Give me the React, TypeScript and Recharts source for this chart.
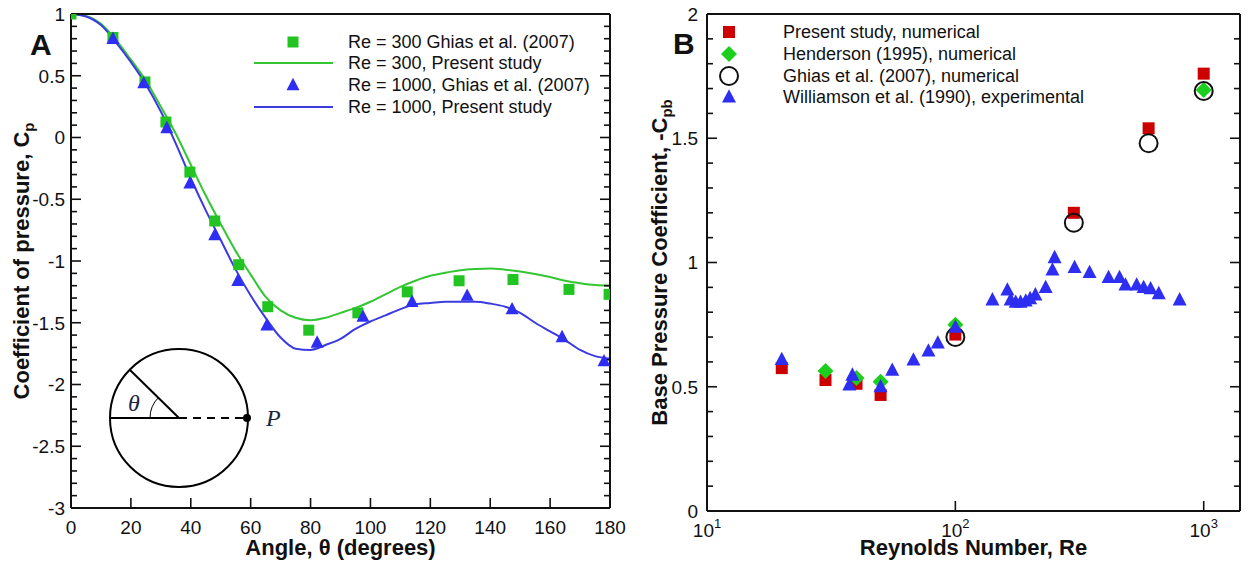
import React from "react";
import { ComposedChart, ScatterChart, Line, Scatter, XAxis, YAxis, Legend } from "recharts";

const FONT = "'Liberation Sans', Arial, Helvetica, sans-serif";
const SERIF = "'Liberation Serif', 'Times New Roman', serif";
const INK = "#111";

// ---------- panel A : Cp around the cylinder ----------
const angleMajor = [0, 20, 40, 60, 80, 100, 120, 140, 160, 180];
const cpMajor = [-3, -2.5, -2, -1.5, -1, -0.5, 0, 0.5, 1];

// Ghias et al. (2007), Re = 300 (squares)
const ghias300 = [
  { angle: 0, cp: 1.0 }, { angle: 14, cp: 0.81 }, { angle: 24.7, cp: 0.45 }, { angle: 31.7, cp: 0.125 },
  { angle: 39.7, cp: -0.28 }, { angle: 48, cp: -0.676 }, { angle: 56, cp: -1.03 }, { angle: 65.7, cp: -1.37 },
  { angle: 79.4, cp: -1.56 }, { angle: 95.8, cp: -1.42 }, { angle: 112.3, cp: -1.25 }, { angle: 129.6, cp: -1.16 },
  { angle: 147.6, cp: -1.15 }, { angle: 166.3, cp: -1.23 }, { angle: 179.7, cp: -1.27 },
];

// Ghias et al. (2007), Re = 1000 (triangles)
const ghias1000 = [
  { angle: 14, cp: 0.8 }, { angle: 24.3, cp: 0.44 }, { angle: 32, cp: 0.077 }, { angle: 39.7, cp: -0.37 },
  { angle: 48, cp: -0.79 }, { angle: 55.7, cp: -1.16 }, { angle: 65.4, cp: -1.52 }, { angle: 82.2, cp: -1.66 },
  { angle: 97.5, cp: -1.45 }, { angle: 113.9, cp: -1.33 }, { angle: 132.3, cp: -1.28 }, { angle: 147.3, cp: -1.39 },
  { angle: 164, cp: -1.615 }, { angle: 178, cp: -1.81 },
];

// present study, Re = 300
const present300 = [
  { angle: 0, cp: 1.0 }, { angle: 5, cp: 0.985 }, { angle: 10, cp: 0.92 }, { angle: 15, cp: 0.79 },
  { angle: 20, cp: 0.63 }, { angle: 25, cp: 0.46 }, { angle: 30, cp: 0.25 }, { angle: 35, cp: 0.03 },
  { angle: 40, cp: -0.22 }, { angle: 45, cp: -0.47 }, { angle: 50, cp: -0.7 }, { angle: 55, cp: -0.92 },
  { angle: 60, cp: -1.11 }, { angle: 65, cp: -1.29 }, { angle: 70, cp: -1.4 }, { angle: 75, cp: -1.46 },
  { angle: 80, cp: -1.48 }, { angle: 85, cp: -1.46 }, { angle: 90, cp: -1.42 }, { angle: 95, cp: -1.38 },
  { angle: 100, cp: -1.33 }, { angle: 105, cp: -1.27 }, { angle: 110, cp: -1.21 }, { angle: 115, cp: -1.16 },
  { angle: 120, cp: -1.12 }, { angle: 125, cp: -1.095 }, { angle: 130, cp: -1.075 }, { angle: 135, cp: -1.065 },
  { angle: 140, cp: -1.06 }, { angle: 145, cp: -1.07 }, { angle: 150, cp: -1.085 }, { angle: 155, cp: -1.105 },
  { angle: 160, cp: -1.13 }, { angle: 165, cp: -1.16 }, { angle: 170, cp: -1.18 }, { angle: 175, cp: -1.195 },
  { angle: 180, cp: -1.2 },
];

// present study, Re = 1000
const present1000 = [
  { angle: 0, cp: 1.0 }, { angle: 5, cp: 0.98 }, { angle: 10, cp: 0.91 }, { angle: 15, cp: 0.77 },
  { angle: 20, cp: 0.61 }, { angle: 25, cp: 0.43 }, { angle: 30, cp: 0.21 }, { angle: 35, cp: -0.05 },
  { angle: 40, cp: -0.33 }, { angle: 45, cp: -0.59 }, { angle: 50, cp: -0.83 }, { angle: 55, cp: -1.07 },
  { angle: 60, cp: -1.28 }, { angle: 65, cp: -1.46 }, { angle: 70, cp: -1.62 }, { angle: 75, cp: -1.71 },
  { angle: 80, cp: -1.72 }, { angle: 85, cp: -1.68 }, { angle: 90, cp: -1.63 }, { angle: 95, cp: -1.55 },
  { angle: 100, cp: -1.49 }, { angle: 105, cp: -1.44 }, { angle: 110, cp: -1.39 }, { angle: 115, cp: -1.35 },
  { angle: 120, cp: -1.34 }, { angle: 125, cp: -1.33 }, { angle: 130, cp: -1.33 }, { angle: 135, cp: -1.33 },
  { angle: 140, cp: -1.345 }, { angle: 145, cp: -1.37 }, { angle: 150, cp: -1.42 }, { angle: 155, cp: -1.5 },
  { angle: 160, cp: -1.57 }, { angle: 165, cp: -1.64 }, { angle: 170, cp: -1.72 }, { angle: 175, cp: -1.77 },
  { angle: 180, cp: -1.79 },
];

// ---------- panel B : base pressure vs Re ----------
const reDecades = [10, 100, 1000];
const cpbMajor = [0, 0.5, 1, 1.5, 2];

const presentCpb = [
  { re: 20, cpb: 0.575 }, { re: 30, cpb: 0.527 }, { re: 40, cpb: 0.512 }, { re: 50, cpb: 0.467 },
  { re: 100, cpb: 0.71 }, { re: 300, cpb: 1.2 }, { re: 600, cpb: 1.54 }, { re: 1000, cpb: 1.76 },
];
const hendersonCpb = [
  { re: 30, cpb: 0.563 }, { re: 40, cpb: 0.535 }, { re: 50, cpb: 0.52 }, { re: 100, cpb: 0.75 }, { re: 1000, cpb: 1.694 },
];
const ghiasCpb = [
  { re: 100, cpb: 0.7 }, { re: 300, cpb: 1.16 }, { re: 600, cpb: 1.48 }, { re: 1000, cpb: 1.69 },
];
const williamsonCpb = [
  { re: 20, cpb: 0.61 }, { re: 37.4, cpb: 0.507 }, { re: 38.5, cpb: 0.547 }, { re: 50, cpb: 0.5 },
  { re: 55.7, cpb: 0.567 }, { re: 67.8, cpb: 0.608 }, { re: 77.9, cpb: 0.644 }, { re: 85, cpb: 0.676 },
  { re: 100, cpb: 0.74 }, { re: 141, cpb: 0.85 }, { re: 162, cpb: 0.89 }, { re: 167, cpb: 0.85 },
  { re: 175, cpb: 0.84 }, { re: 183, cpb: 0.84 }, { re: 192, cpb: 0.845 }, { re: 200, cpb: 0.855 },
  { re: 210, cpb: 0.87 }, { re: 231, cpb: 0.9 }, { re: 246, cpb: 0.97 }, { re: 251, cpb: 1.02 },
  { re: 302, cpb: 0.98 }, { re: 347, cpb: 0.96 }, { re: 414, cpb: 0.94 }, { re: 458, cpb: 0.94 },
  { re: 484, cpb: 0.91 }, { re: 537, cpb: 0.91 }, { re: 573, cpb: 0.9 }, { re: 611, cpb: 0.895 },
  { re: 659, cpb: 0.875 }, { re: 800, cpb: 0.85 },
];

const GREEN = "#22c422";
const GREEN_LINE = "#33c633";
const BLUE = "#2e2ef2";
const BLUE_LINE = "#3b3be0";
const RED = "#cc0000";
const DIAMOND = "#1ccf1c";

// minor ticks (majors excluded)
function minorLinear(majors: number[], step: number) {
  const out: number[] = [];
  for (let i = 0; i < majors.length - 1; i++) {
    for (let v = majors[i] + step; v < majors[i + 1] - 1e-9; v += step) out.push(Math.round(v * 1000) / 1000);
  }
  return out;
}
function minorLog(decades: number[]) {
  const out: number[] = [];
  decades.slice(0, -1).forEach((d) => {
    for (let k = 2; k <= 9; k++) out.push(d * k);
  });
  return out;
}

const angleMinor = minorLinear(angleMajor, 5);
const cpMinor = minorLinear(cpMajor, 0.1);
const reMinor = minorLog(reDecades);
const cpbMinor = minorLinear(cpbMajor, 0.1);

const axisLine = { stroke: INK, strokeWidth: 2 };
const tickLine = { stroke: INK, strokeWidth: 1.6 };
const MAJOR_LEN = 10;
const MINOR_LEN = 6;
const blankTick = () => <g />;

// mirrored (inward) tick axes: minor ticks on bottom/left, major+minor on top/right
function frameAxes(xd: number[], yd: number[], scale: "linear" | "log", xMaj: number[], xMin: number[], yMaj: number[], yMin: number[]) {
  const xc = { type: "number" as const, scale, domain: xd, allowDataOverflow: true, mirror: true, interval: 0 as const, height: 0.01, tick: blankTick, tickLine };
  const yc = { type: "number" as const, domain: yd, allowDataOverflow: true, mirror: true, interval: 0 as const, width: 0.01, tick: blankTick, tickLine };
  return [
    <XAxis key="bm" xAxisId="bm" orientation="bottom" {...xc} ticks={xMin} tickSize={MINOR_LEN} axisLine={false} />,
    <XAxis key="tM" xAxisId="tM" orientation="top" {...xc} ticks={xMaj} tickSize={MAJOR_LEN} axisLine={axisLine} />,
    <XAxis key="tm" xAxisId="tm" orientation="top" {...xc} ticks={xMin} tickSize={MINOR_LEN} axisLine={false} />,
    <YAxis key="lm" yAxisId="lm" orientation="left" {...yc} ticks={yMin} tickSize={MINOR_LEN} axisLine={false} />,
    <YAxis key="rM" yAxisId="rM" orientation="right" {...yc} ticks={yMaj} tickSize={MAJOR_LEN} axisLine={axisLine} />,
    <YAxis key="rm" yAxisId="rm" orientation="right" {...yc} ticks={yMin} tickSize={MINOR_LEN} axisLine={false} />,
  ];
}

function bottomLabel(fmt: (v: number) => React.ReactNode) {
  return (props: any) => (
    <text x={props.x} y={props.y} dy="0.75em" textAnchor="middle" fontSize={19} fontFamily={FONT} fill={INK}>
      {fmt(props.payload.value)}
    </text>
  );
}
function leftLabel(props: any) {
  return (
    <text x={props.x} y={props.y} dy="0.36em" textAnchor="end" fontSize={19} fontFamily={FONT} fill={INK}>
      {String(props.payload.value)}
    </text>
  );
}

const powerLabel = (v: number) => (
  <>
    10
    <tspan dy={-9} fontSize={13}>{Math.round(Math.log10(v))}</tspan>
  </>
);

// marker shapes
const square = (fill: string, s: number) => (p: any) => (
  <rect x={p.cx - s / 2} y={p.cy - s / 2} width={s} height={s} fill={fill} />
);
const triangle = (fill: string, w: number) => (p: any) => (
  <polygon
    points={`${p.cx},${p.cy - w * 0.55} ${p.cx - w / 2},${p.cy + w * 0.4} ${p.cx + w / 2},${p.cy + w * 0.4}`}
    fill={fill}
  />
);
const diamond = (fill: string, w: number) => (p: any) => (
  <polygon
    points={`${p.cx},${p.cy - w / 2} ${p.cx + w / 2},${p.cy} ${p.cx},${p.cy + w / 2} ${p.cx - w / 2},${p.cy}`}
    fill={fill}
  />
);
const ring = (r: number) => (p: any) => (
  <circle cx={p.cx} cy={p.cy} r={r} fill="none" stroke={INK} strokeWidth={2} />
);

type LegendRow = { label: string; mark: (cx: number, cy: number) => React.ReactNode };

function LegendRows({ rows, markX, textX, rowY }: { rows: LegendRow[]; markX: number; textX: number; rowY: number[] }) {
  return (
    <g>
      {rows.map((r, i) => (
        <g key={r.label}>
          {r.mark(markX, rowY[i])}
          <text x={textX} y={rowY[i]} dy="0.36em" fontSize={18} fontFamily={FONT} fill={INK}>
            {r.label}
          </text>
        </g>
      ))}
    </g>
  );
}

const legendA: LegendRow[] = [
  { label: "Re = 300 Ghias et al. (2007)", mark: (x, y) => square(GREEN, 11)({ cx: x, cy: y }) },
  { label: "Re = 300, Present study", mark: (x, y) => <line x1={x - 39} x2={x + 40} y1={y} y2={y} stroke={GREEN_LINE} strokeWidth={2} /> },
  { label: "Re = 1000, Ghias et al. (2007)", mark: (x, y) => triangle(BLUE, 13)({ cx: x, cy: y }) },
  { label: "Re = 1000, Present study", mark: (x, y) => <line x1={x - 39} x2={x + 40} y1={y} y2={y} stroke={BLUE_LINE} strokeWidth={2} /> },
];

const legendB: LegendRow[] = [
  { label: "Present study, numerical", mark: (x, y) => square(RED, 12)({ cx: x, cy: y }) },
  { label: "Henderson (1995), numerical", mark: (x, y) => diamond(DIAMOND, 16)({ cx: x, cy: y }) },
  { label: "Ghias et al. (2007), numerical", mark: (x, y) => ring(9)({ cx: x, cy: y }) },
  { label: "Williamson et al. (1990), experimental", mark: (x, y) => triangle(BLUE, 14)({ cx: x, cy: y }) },
];

function yTitle(offset: number, main: string, sub: string) {
  return (props: any) => {
    const vb = props.viewBox;
    const tx = vb.x + offset;
    const ty = vb.y + vb.height / 2;
    return (
      <text transform={`translate(${tx},${ty}) rotate(-90)`} textAnchor="middle" fontSize={22} fontWeight="bold" fontFamily={FONT} fill={INK}>
        {main}
        <tspan dy={5} fontSize={15}>{sub}</tspan>
      </text>
    );
  };
}
function xTitle(offset: number, text: string) {
  return (props: any) => {
    const vb = props.viewBox;
    return (
      <text x={vb.x + vb.width / 2} y={vb.y + offset} textAnchor="middle" fontSize={22} fontWeight="bold" fontFamily={FONT} fill={INK}>
        {text}
      </text>
    );
  };
}

function PanelA() {
  return (
    <ComposedChart width={640} height={567} margin={{ top: 14, right: 30, bottom: 0, left: 0 }}>
      <XAxis xAxisId="b" dataKey="angle" type="number" domain={[0, 180]} allowDataOverflow ticks={angleMajor} interval={0}
        height={59} tickSize={-MAJOR_LEN} tickMargin={22} tickLine={tickLine} axisLine={axisLine}
        tick={bottomLabel((v) => String(v))} label={{ content: xTitle(47, "Angle, θ (degrees)") }} />
      <YAxis yAxisId="l" dataKey="cp" type="number" domain={[-3, 1]} allowDataOverflow ticks={cpMajor} interval={0}
        width={71} tickSize={-MAJOR_LEN} tickMargin={16} tickLine={tickLine} axisLine={axisLine}
        tick={leftLabel} label={{ content: yTitle(29, "Coefficient of pressure, C", "p") }} />
      {frameAxes([0, 180], [-3, 1], "linear", angleMajor, angleMinor, cpMajor, cpMinor)}
      <Line xAxisId="b" yAxisId="l" data={present300} dataKey="cp" type="monotone" stroke={GREEN_LINE} strokeWidth={2} dot={false} isAnimationActive={false} />
      <Line xAxisId="b" yAxisId="l" data={present1000} dataKey="cp" type="monotone" stroke={BLUE_LINE} strokeWidth={2} dot={false} isAnimationActive={false} />
      <Scatter xAxisId="b" yAxisId="l" data={ghias300} dataKey="cp" shape={square(GREEN, 11)} isAnimationActive={false} />
      <Scatter xAxisId="b" yAxisId="l" data={ghias1000} dataKey="cp" shape={triangle(BLUE, 13)} isAnimationActive={false} />
    </ComposedChart>
  );
}

function PanelB() {
  return (
    <ScatterChart width={610} height={567} margin={{ top: 14, right: 10, bottom: 0, left: 0 }}>
      <XAxis xAxisId="b" dataKey="re" type="number" scale="log" domain={[10, 1400]} allowDataOverflow ticks={reDecades} interval={0}
        height={56} tickSize={-MAJOR_LEN} tickMargin={22} tickLine={tickLine} axisLine={axisLine}
        tick={bottomLabel(powerLabel)} label={{ content: xTitle(44, "Reynolds Number, Re") }} />
      <YAxis yAxisId="l" dataKey="cpb" type="number" domain={[0, 2]} allowDataOverflow ticks={cpbMajor} interval={0}
        width={67} tickSize={-MAJOR_LEN} tickMargin={19} tickLine={tickLine} axisLine={axisLine}
        tick={leftLabel} label={{ content: yTitle(27, "Base Pressure Coefficient, -C", "pb") }} />
      {frameAxes([10, 1400], [0, 2], "log", reDecades, reMinor, cpbMajor, cpbMinor)}
      <Scatter xAxisId="b" yAxisId="l" data={presentCpb} shape={square(RED, 12)} isAnimationActive={false} />
      <Scatter xAxisId="b" yAxisId="l" data={hendersonCpb} shape={diamond(DIAMOND, 16)} isAnimationActive={false} />
      <Scatter xAxisId="b" yAxisId="l" data={ghiasCpb} shape={ring(9)} isAnimationActive={false} />
      <Scatter xAxisId="b" yAxisId="l" data={williamsonCpb} shape={triangle(BLUE, 14)} isAnimationActive={false} />
      <Legend layout="vertical" align="center" verticalAlign="middle"
        wrapperStyle={{ left: 70, top: 20, width: 420, height: 90 }}
        content={() => (
          <svg width={420} height={90} style={{ overflow: "visible" }}>
            <LegendRows rows={legendB} markX={19} textX={73} rowY={[12, 34, 56, 77]} />
          </svg>
        )} />
    </ScatterChart>
  );
}

// cylinder sketch, panel letters and the legend of panel A
function Overlay() {
  return (
    <svg width={1250} height={567} style={{ position: "absolute", left: 0, top: 0, pointerEvents: "none" }}>
      <text x={30} y={55} fontSize={30} fontWeight="bold" fontFamily={FONT} fill={INK}>A</text>
      <text x={673} y={54} fontSize={30} fontWeight="bold" fontFamily={FONT} fill={INK}>B</text>
      <LegendRows rows={legendA} markX={293} textX={348} rowY={[42, 63, 85, 107]} />
      <g stroke="#000" strokeWidth={2} fill="none">
        <circle cx={179} cy={418} r={69} />
        <line x1={110} y1={418} x2={179} y2={418} />
        <line x1={179} y1={418} x2={247} y2={418} strokeDasharray="8 6" />
        <line x1={179} y1={418} x2={130} y2={370} />
        <path d="M150,418 A29,29 0 0 1 158.5,397.5" strokeWidth={1} />
      </g>
      <circle cx={247} cy={418} r={4} fill="#000" />
      <text x={128} y={411} fontSize={24} fontStyle="italic" fontFamily={SERIF} fill="#1b2440">θ</text>
      <text x={266} y={426} fontSize={24} fontStyle="italic" fontFamily={SERIF} fill="#1b2440">P</text>
    </svg>
  );
}

export default function App() {
  return (
    <div style={{ position: "absolute", left: 0, top: 0, width: 1250, height: 567, background: "#fff" }}>
      <div style={{ position: "absolute", left: 0, top: 0 }}>
        <PanelA />
      </div>
      <div style={{ position: "absolute", left: 640, top: 0 }}>
        <PanelB />
      </div>
      <Overlay />
    </div>
  );
}
